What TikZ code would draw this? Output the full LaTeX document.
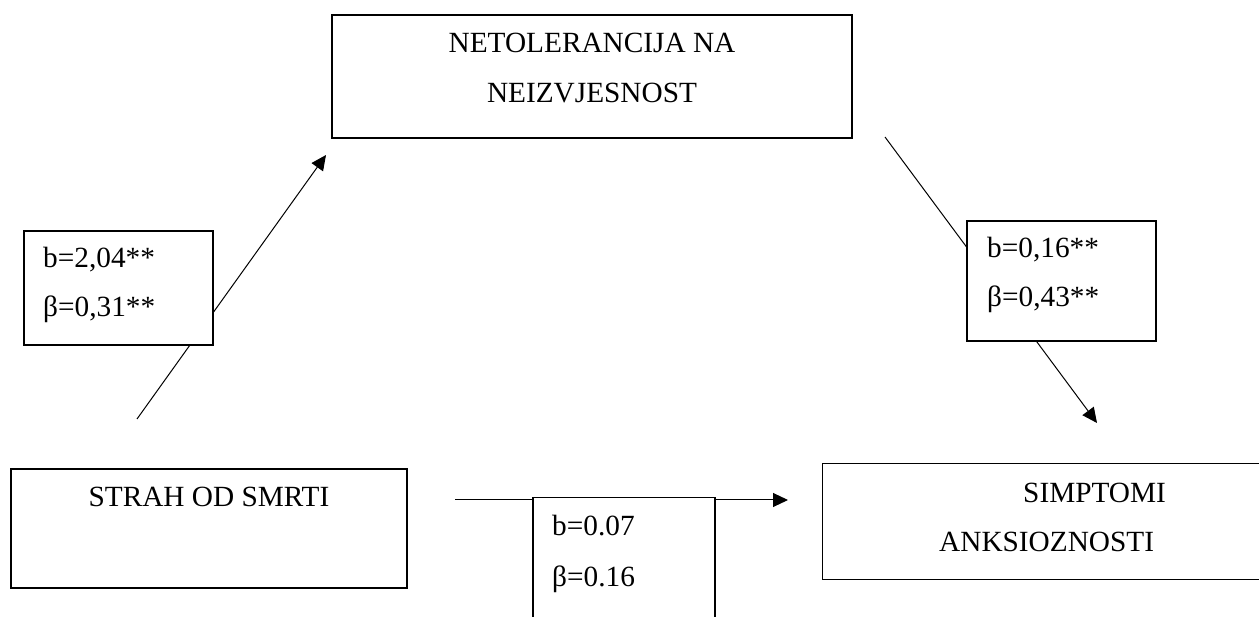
\documentclass[tikz,border=0pt]{standalone}
\usepackage{fontspec}
\setmainfont{Liberation Serif}
\usetikzlibrary{arrows.meta}
\begin{document}
\begin{tikzpicture}[x=1pt,y=-1pt,
  box/.style={draw, line width=1.3pt, fill=white, inner sep=0pt},
  conn/.style={line width=1pt},
  arr/.style={conn, -{Triangle[length=15pt,width=14pt]}},
  txt/.style={font=\fontsize{29.3}{35}\selectfont, inner sep=0pt}]
\useasboundingbox (0,0) rectangle (1259,617);
\clip (0,0) rectangle (1259,617);
% connector end points
\coordinate (a1s) at (137,419);
\coordinate (a1e) at (326,155);
\coordinate (a2s) at (885,137);
\coordinate (a2e) at (1097,423);
\coordinate (a3s) at (455,500);
\coordinate (a3e) at (788,500);
% connectors
\draw[arr] (a1s) -- (a1e);
\draw[arr] (a2s) -- (a2e);
\draw[arr] (a3s) -- (a3e);
% main boxes
\node[box, minimum width=520pt, minimum height=123pt] (ntol) at (592,76.5) {};
\node[box, minimum width=396pt, minimum height=119pt] (strah) at (209,528.5) {};
\node[box, minimum width=460pt, minimum height=116pt, anchor=north west] (simp) at (822,463) {};
% coefficient boxes
\node[box, minimum width=189pt, minimum height=114pt] (lab1) at (118.5,288) {};
\node[box, minimum width=189pt, minimum height=120pt] (lab2) at (1061.5,281) {};
\node[box, minimum width=182pt, minimum height=140pt, anchor=north] (lab3) at (624,497) {};
% texts
\node[txt, anchor=base] (t1) at (592,53) {NETOLERANCIJA NA};
\node[txt, anchor=base] (t2) at (592,103) {NEIZVJESNOST};
\node[txt, anchor=base] (t3) at (209,507) {STRAH OD SMRTI};
\node[txt, anchor=base west] (t4) at (1023,502) {SIMPTOMI};
\node[txt, anchor=base west] (t5) at (939,551) {ANKSIOZNOSTI};
\node[txt, anchor=base west] (l1a) at (43,268) {b=2,04**};
\node[txt, anchor=base west] (l1b) at (43,317) {β=0,31**};
\node[txt, anchor=base west] (l2a) at (987,258) {b=0,16**};
\node[txt, anchor=base west] (l2b) at (987,307) {β=0,43**};
\node[txt, anchor=base west] (l3a) at (552,535) {b=0.07};
\node[txt, anchor=base west] (l3b) at (552,586) {β=0.16};
\end{tikzpicture}
\end{document}
